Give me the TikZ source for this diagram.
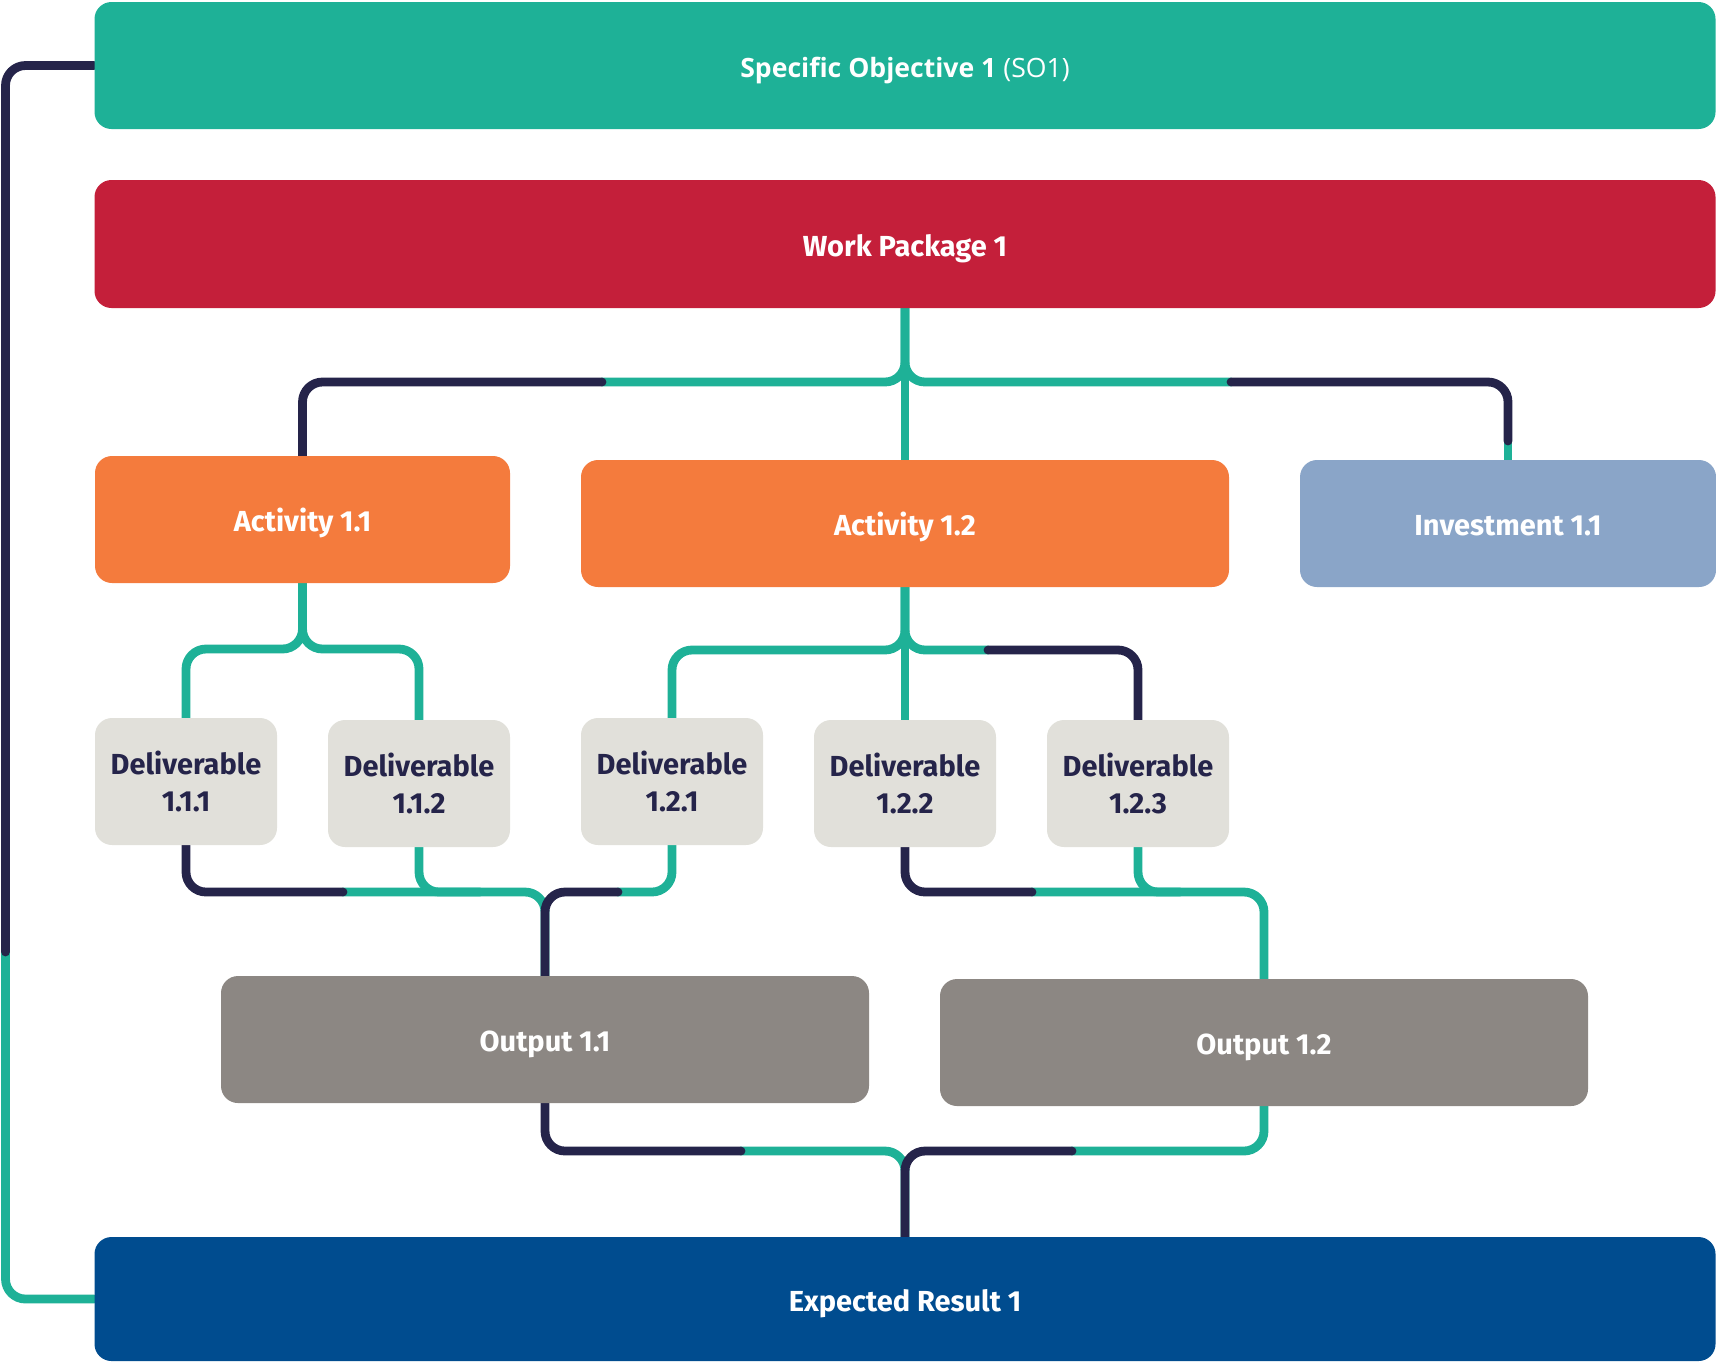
\documentclass[tikz,border=0pt]{standalone}
\usepackage{fontspec}
\setmainfont{Fira Sans}
\newfontfamily\titlefont{Open Sans}
\usetikzlibrary{positioning}

\definecolor{sogreen}{HTML}{1EB197}
\definecolor{linenavy}{HTML}{25244A}
\definecolor{wpred}{HTML}{C41F3A}
\definecolor{actorange}{HTML}{F47B3D}
\definecolor{invblue}{HTML}{8AA5C8}
\definecolor{delgrey}{HTML}{E1E0DA}
\definecolor{outgrey}{HTML}{8C8783}
\definecolor{erblue}{HTML}{004C8F}

\pgfdeclarelayer{bg}
\pgfsetlayers{bg,main}

\tikzset{
  box/.style={rectangle, rounded corners=8.5pt, inner sep=0pt, text=white,
    font=\fontsize{14.5}{18.3}\selectfont\bfseries, align=center},
  onebox/.style={box, text height=12.2pt, text depth=0pt},
  widebox/.style={onebox, minimum width=810.5pt, minimum height=63.5pt},
  delbox/.style={box, fill=delgrey, text=linenavy, minimum width=91pt, minimum height=63.5pt},
  tealline/.style={draw=sogreen, line width=4.4pt, line cap=round, rounded corners=10pt},
  navyline/.style={draw=linenavy, line width=4.4pt, line cap=round, rounded corners=10pt}
}

\begin{document}
\begin{tikzpicture}[x=0.5pt, y=-0.5pt]
    \useasboundingbox (0,0) rectangle (1716,1362);

    % boxes
    \node (so) [widebox, fill=sogreen, font=\fontsize{13.3}{16}\selectfont, text height=11.6pt] at (905,65.5) {{\titlefont\bfseries Specific Objective 1} {\titlefont (SO1)}};
    \node (wp) [widebox, fill=wpred, minimum height=64pt] at (905,244) {Work Package 1};
    \node (act11) [onebox, fill=actorange, minimum width=207.5pt, minimum height=63.5pt] at (302.5,519.5) {Activity 1.1};
    \node (act12) [onebox, fill=actorange, minimum width=324pt, minimum height=63.5pt] at (905,523.5) {Activity 1.2};
    \node (inv) [onebox, fill=invblue, minimum width=208pt, minimum height=63.5pt] at (1508,523.5) {Investment 1.1};
    \node (del111) [delbox] at (186,781.5) {Deliverable\\1.1.1};
    \node (del112) [delbox] at (419,783.5) {Deliverable\\1.1.2};
    \node (del121) [delbox] at (672,781.5) {Deliverable\\1.2.1};
    \node (del122) [delbox] at (905,783.5) {Deliverable\\1.2.2};
    \node (del123) [delbox] at (1138,783.5) {Deliverable\\1.2.3};
    \node (out11) [onebox, fill=outgrey, minimum width=324pt, minimum height=63.5pt] at (545,1039.5) {Output 1.1};
    \node (out12) [onebox, fill=outgrey, minimum width=324pt, minimum height=63.5pt] at (1264,1042.5) {Output 1.2};
    \node (er) [widebox, fill=erblue, minimum height=62pt] at (905,1299) {Expected Result 1};

    % bus points and colour changes
    \coordinate (wpbus) at (905,382);
    \coordinate (wpsplitL) at (602,382);
    \coordinate (wpsplitR) at (1231,382);
    \coordinate (invsplit) at (1508,441);
    \coordinate (a11bus) at (302.5,649);
    \coordinate (a12bus) at (905,650);
    \coordinate (a12split) at (988,650);
    \coordinate (o1splitL) at (343,892);
    \coordinate (o1mid) at (480,892);
    \coordinate (o1splitR) at (618,892);
    \coordinate (o2split) at (1032,892);
    \coordinate (o2mid) at (1180,892);
    \coordinate (ersplitL) at (741,1151);
    \coordinate (ersplitR) at (1072,1151);
    \coordinate (loopsplit) at (5.5,952);

    \begin{pgfonlayer}{bg}
    % teal parts
    \draw [tealline] (wp.south) -- (act12.north);
    \draw [tealline] (wp.south) -- (wpbus) -- (wpsplitL);
    \draw [tealline] (wp.south) -- (wpbus) -- (wpsplitR);
    \draw [tealline] (invsplit) -- (inv.north);
    \draw [tealline] (act11.south) -- (a11bus) -| (del111.north);
    \draw [tealline] (act11.south) -- (a11bus) -| (del112.north);
    \draw [tealline] (act12.south) -- (del122.north);
    \draw [tealline] (act12.south) -- (a12bus) -| (del121.north);
    \draw [tealline] (act12.south) -- (a12bus) -- (a12split);
    \draw [tealline] (o1splitL) -| (out11.north);
    \draw [tealline] (del112.south) |- (o1mid);
    \draw [tealline] (del121.south) |- (o1splitR);
    \draw [tealline] (o2split) -| (out12.north);
    \draw [tealline] (del123.south) |- (o2mid);
    \draw [tealline] (ersplitL) -| (er.north);
    \draw [tealline] (out12.south) |- (ersplitR);
    \draw [tealline] (loopsplit) |- (er.west);
    % navy parts
    \draw [navyline] (wpsplitL) -| (act11.north);
    \draw [navyline] (wpsplitR) -| (invsplit);
    \draw [navyline] (a12split) -| (del123.north);
    \draw [navyline] (del111.south) |- (o1splitL);
    \draw [navyline] (o1splitR) -| (out11.north);
    \draw [navyline] (del122.south) |- (o2split);
    \draw [navyline] (out11.south) |- (ersplitL);
    \draw [navyline] (ersplitR) -| (er.north);
    \draw [navyline] (so.west) -| (loopsplit);
    \end{pgfonlayer}
\end{tikzpicture}
\end{document}
